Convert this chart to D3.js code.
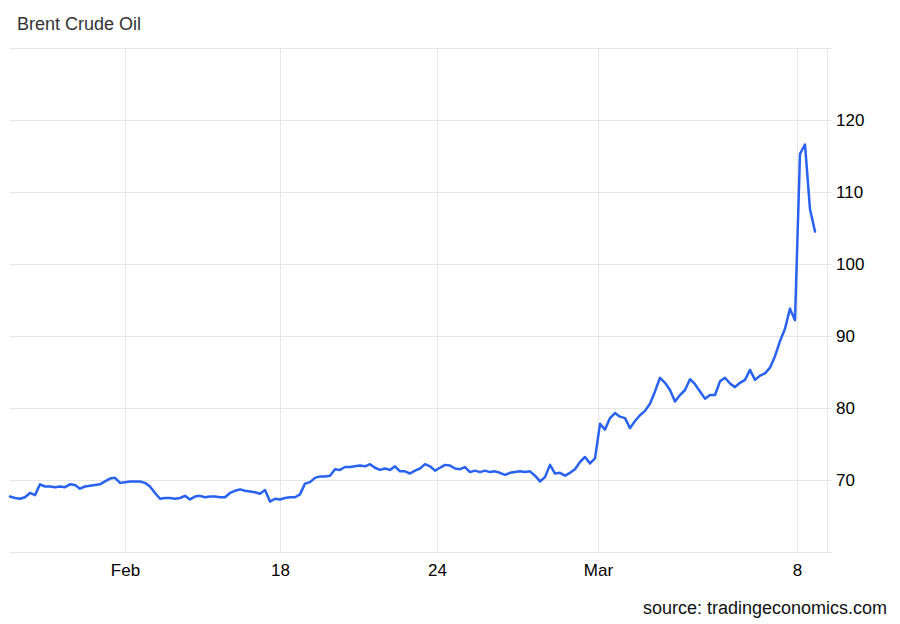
<!DOCTYPE html>
<html>
<head>
<meta charset="utf-8">
<script src="https://cdn.jsdelivr.net/npm/d3@7/dist/d3.min.js"></script>
<style>
  html, body { margin: 0; padding: 0; background: #fff; }
  svg { display: block; font-family: "Liberation Sans", Arial, sans-serif; }
</style>
</head>
<body>
<svg id="chart" width="900" height="624"></svg>
<script>
// ---- data ----
const title = "Brent Crude Oil";
const source = "source: tradingeconomics.com";
const xTickLabels = ["Feb", "18", "24", "Mar", "8"];
const xTickIndex = [23, 54, 85.4, 117.6, 157.4];
const yTicks = [60, 70, 80, 90, 100, 110, 120, 130];
const yLabelled = [70, 80, 90, 100, 110, 120];
const prices = [
  67.7, 67.5, 67.4, 67.6, 68.2, 67.9, 69.4, 69.1, 69.1, 69.0,
  69.1, 69.0, 69.4, 69.3, 68.8, 69.1, 69.2, 69.3, 69.4, 69.8,
  70.2, 70.3, 69.6, 69.7, 69.8, 69.8, 69.8, 69.6, 69.1, 68.2,
  67.4, 67.5, 67.5, 67.4, 67.5, 67.8, 67.3, 67.7, 67.8, 67.6,
  67.7, 67.7, 67.6, 67.6, 68.2, 68.5, 68.7, 68.5, 68.4, 68.3,
  68.1, 68.6, 67.0, 67.4, 67.3, 67.5, 67.6, 67.6, 68.0, 69.5,
  69.7, 70.3, 70.5, 70.5, 70.6, 71.5, 71.4, 71.8, 71.8, 71.9,
  72.0, 71.9, 72.2, 71.7, 71.4, 71.6, 71.4, 71.9, 71.2, 71.2,
  70.9, 71.3, 71.6, 72.2, 71.9, 71.3, 71.7, 72.1, 72.0, 71.6,
  71.5, 71.8, 71.1, 71.3, 71.1, 71.3, 71.1, 71.2, 71.0, 70.7,
  71.0, 71.1, 71.2, 71.1, 71.2, 70.6, 69.8, 70.4, 72.1, 70.9,
  71.0, 70.6, 71.0, 71.5, 72.5, 73.2, 72.3, 73.0, 77.8, 77.0,
  78.6, 79.3, 78.8, 78.6, 77.2, 78.2, 79.0, 79.6, 80.6, 82.3,
  84.2, 83.5, 82.5, 80.9, 81.8, 82.5, 84.0, 83.3, 82.3, 81.3,
  81.8, 81.8, 83.7, 84.2, 83.4, 82.9, 83.5, 83.9, 85.3, 83.9,
  84.5, 84.8, 85.6, 87.2, 89.3, 91.0, 93.8, 92.2, 115.3, 116.6,
  107.6, 104.5
];

// ---- layout ----
const svg = d3.select("#chart");
const plotLeft = 10, plotRight = 827, plotTop = 48, plotBottom = 552;

const x = d3.scaleLinear().domain([0, prices.length - 1]).range([plotLeft, 815]);
const y = d3.scaleLinear().domain([60, 130]).range([plotBottom, plotTop]);

const gridColor = "#e6e6e6";

// vertical grid
svg.append("g")
  .attr("transform", `translate(0,${plotBottom})`)
  .call(d3.axisBottom(x).tickValues(xTickIndex).tickSize(-(plotBottom - plotTop)).tickFormat(""))
  .call(g => g.select(".domain").remove())
  .call(g => g.selectAll("line").attr("stroke", gridColor));

// horizontal grid
svg.append("g")
  .attr("transform", `translate(${plotRight},0)`)
  .call(d3.axisRight(y).tickValues(yTicks).tickSize(-(plotRight - plotLeft)).tickFormat(""))
  .call(g => g.select(".domain").remove())
  .call(g => g.selectAll("line").attr("stroke", gridColor));

// right axis
svg.append("g")
  .attr("transform", `translate(${plotRight},0)`)
  .call(d3.axisRight(y).tickValues(yTicks).tickSize(5).tickSizeOuter(0).tickPadding(4)
    .tickFormat(d => yLabelled.includes(d) ? d : ""))
  .call(g => g.select(".domain").attr("stroke", gridColor))
  .call(g => g.selectAll("line").attr("stroke", gridColor))
  .call(g => g.selectAll("text").attr("fill", "#000").style("font-size", "17px")
    .style("font-family", "'Liberation Sans', Arial, sans-serif"));

// bottom axis labels
svg.append("g")
  .attr("transform", `translate(0,${plotBottom})`)
  .call(d3.axisBottom(x).tickValues(xTickIndex).tickSize(0).tickPadding(12)
    .tickFormat((d, i) => xTickLabels[i]))
  .call(g => g.select(".domain").attr("stroke", gridColor))
  .call(g => g.selectAll("text").attr("fill", "#000").style("font-size", "17px")
    .style("font-family", "'Liberation Sans', Arial, sans-serif"));

// line
svg.append("path")
  .datum(prices)
  .attr("fill", "none")
  .attr("stroke", "#2962f0")
  .attr("stroke-width", 2.5)
  .attr("stroke-linejoin", "round")
  .attr("stroke-linecap", "round")
  .attr("d", d3.line().x((d, i) => x(i)).y(d => y(d)));

// title
svg.append("text")
  .attr("x", 17).attr("y", 30)
  .attr("fill", "#333")
  .style("font-size", "18px")
  .text(title);

// source
svg.append("text")
  .attr("x", 887).attr("y", 614)
  .attr("text-anchor", "end")
  .attr("fill", "#111")
  .style("font-size", "18px")
  .text(source);
</script>
</body>
</html>
